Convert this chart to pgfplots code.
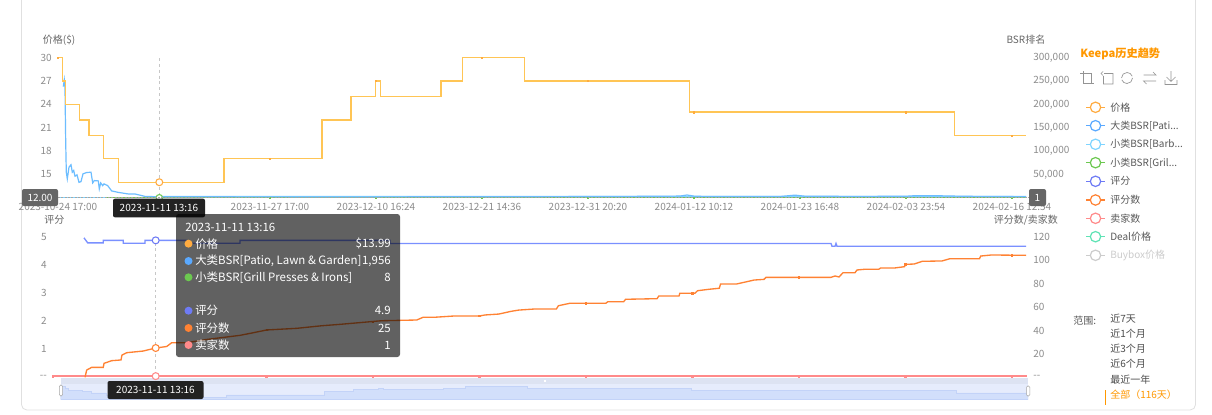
\documentclass[border=0pt]{standalone}
\usepackage{fontspec}
\setmainfont{Noto Sans CJK SC}
\usepackage{pgfplots}
\usepackage{pgfplotstable}
\pgfplotsset{compat=1.18}
\definecolor{cPrice}{HTML}{FFC555}
\definecolor{lPrice}{HTML}{FFAB40}
\definecolor{cBig}{HTML}{6CBDFF}
\definecolor{lBig}{HTML}{5AA9FF}
\definecolor{cBarb}{HTML}{7FD4FF}
\definecolor{cGrill}{HTML}{6CC850}
\definecolor{cRate}{HTML}{7A90FF}
\definecolor{lRate}{HTML}{6E7BF5}
\definecolor{cCount}{HTML}{FF8233}
\definecolor{cSell}{HTML}{FF8A8A}
\definecolor{cDeal}{HTML}{5FE3B5}
\definecolor{cBuy}{HTML}{CCCCCC}
\definecolor{tickgray}{HTML}{8C8C8C}
\definecolor{keepa}{HTML}{FF9800}
\definecolor{sBg}{HTML}{E6ECFC}
\definecolor{sTop}{HTML}{DDE3F2}
\definecolor{sLine}{HTML}{C3D3F8}
\definecolor{sFill}{HTML}{D2DFFB}
\definecolor{pGrey}{HTML}{666666}
\definecolor{pDark}{HTML}{222222}
\newcommand{\dd}{.\kern0pt.\kern0pt.}
\pgfplotstableread{
x y
58 30
62.7 30
62.7 27
65.3 27
65.3 24
79.7 24
79.7 22
89 22
89 20
103.7 20
103.7 17
118.7 17
118.7 13.99
224 13.99
224 17
322 17
322 22
351 22
351 25
375.7 25
375.7 27
380.7 27
380.7 25
441 25
441 27
462.7 27
462.7 30
524.7 30
524.7 27
689.3 27
689.3 23
954.3 23
954.3 20
1026 20
}\pricetable
\pgfplotstableread{
x y
63.3 238000
64.3 252500
65 234600
65.7 119400
66.3 54600
67.3 40400
69 65400
71 70600
72.3 54600
73.7 58300
75 46000
77 49000
79 33000
81 34500
83 51100
86.7 54000
91 54600
92.7 31700
94.3 36700
98.3 36000
99.3 18800
100.7 31700
102.7 25900
104 29600
107.7 25900
111.7 14500
118.3 11400
128.3 8000
135 8000
145 2800
159.3 1956
200 1900
250 1800
350 1600
450 2000
560 2300
650 3000
680 3500
687 5800
695 3000
720 2600
780 2600
795 5500
805 3200
850 2800
905 3000
915 4300
935 4300
965 3000
1026 2200
}\bigtable
\pgfplotstableread{
x y
84 4.96
87.7 4.78
103.3 4.78
103.3 4.87
123.3 4.87
123.3 4.77
145 4.77
145 4.87
186 4.87
186 4.77
240 4.77
240 4.87
390 4.87
390 4.76
831 4.76
832 4.66
835 4.66
836 4.76
837 4.66
1026 4.66
}\ratetable
\pgfplotstableread{
x y
85 0
86.7 6.2
91.7 8.5
103.3 8.5
104 11.9
111.7 14.2
121 14.8
122 19
126.7 21
143 22.4
155.7 25
166.7 26.3
171.7 29.5
186.7 29.5
206.7 32.3
240 35.8
253 38
266.7 40.4
296.7 41.8
321.7 44
340 45.2
381.7 48.3
416.7 48.9
423 51.2
433.8 51.2
453.6 52.3
479.3 52.3
485 53.2
499 54
511 56.3
519 57.4
534.7 58.3
556.4 58.3
558.4 61.1
570 63.2
605.8 63.2
607.8 64.5
623.6 64.5
625.6 66.6
657 67.1
658.8 69.4
679 69.4
679.8 71.7
694.8 71.7
697.6 73.9
708.7 75.1
719.3 76
720.5 79.6
736.3 79.6
744.2 81.1
754 83
764 83.6
766 85.3
831 85.3
835 86.5
839 85.6
843 89.3
855 89.3
857 91.6
864.8 92.2
878.7 92.2
880.6 93.3
894.5 93.3
904.4 94.4
905.6 96.4
914.3 96.7
922.2 99
942 99.3
949.8 101.2
979.5 101.2
980.7 103.5
991.4 104.4
1026 104.1
}\counttable
\newcommand{\tf}{\fontsize{7.5}{9}\selectfont}
\newcommand{\ttf}{\fontsize{8.6}{10}\selectfont}
\pgfplotsset{base/.style={
  scale only axis, clip=false,
  major tick length=0pt, minor tick length=0pt,
  scaled y ticks=false,
  tick label style={font=\tf, text=tickgray, inner sep=0pt},
  y axis line style={draw=none},
}}
\begin{document}
\begin{tikzpicture}[x=0.75pt,y=-0.75pt]
\useasboundingbox (0,0) rectangle (1212,414);
\clip (0,0) rectangle (1212,414);
\fill[white] (0,0) rectangle (1212,414);
\draw[draw=black!12, line width=0.6pt, rounded corners=4pt] (21.5,-20) rectangle (1195.5,410);
% pointer lines
\draw[black!22, line width=0.6pt, dash pattern=on 2.2pt off 2.2pt] (159.3,58) -- (159.3,197);
\draw[black!22, line width=0.6pt, dash pattern=on 2.2pt off 2.2pt] (155.7,236.7) -- (155.7,377);
% slider background
\fill[sBg] (60.7,377.7) rectangle (1028,399);
\fill[sTop] (60.7,377.7) rectangle (1028,383.7);

% ---------- upper right axis
\begin{axis}[base, at={(43.5pt,-148.275pt)}, anchor=south west,
  width=728.25pt, height=105pt,
  xmin=58, xmax=1029, ymin=0, ymax=300000,
  axis x line=none, axis y line*=right,
  ytick={50000,100000,150000,200000,250000,300000},
  yticklabels={{50,000},{100,000},{150,000},{200,000},{250,000},{300,000}},
  yticklabel style={anchor=west, xshift=3pt},
]
\addplot[cGrill, line width=0.6pt] coordinates {(107,8)(1026,8)};
\addplot[cBarb, line width=0.8pt] coordinates {(58,500)(105,500)};
\addplot[cBarb, line width=0.8pt] coordinates {(160,2800)(1026,3000)};
\addplot[cBig, line width=0.9pt] table {\bigtable};
\addplot[only marks, mark=square*, mark size=0.5pt, cGrill] coordinates {(270,8)(376,8)(482,8)(588,8)(694,8)(800,8)(906,8)(1012,8)};
\addplot[only marks, mark=*, mark size=2.4pt, mark options={draw=cGrill, fill=white, line width=0.8pt}] coordinates {(159.3,8)};
\end{axis}
% ---------- upper left axis
\begin{axis}[base, at={(43.5pt,-148.275pt)}, anchor=south west,
  width=728.25pt, height=105pt,
  xmin=58, xmax=1029, ymin=12, ymax=30,
  axis x line*=bottom, axis y line*=left,
  x axis line style={draw=black!35, dash pattern=on 1.5pt off 1pt, line width=0.5pt},
  ytick={15,18,21,24,27,30}, yticklabels={15,18,21,24,27,30},
  xtick={58,270,376,482,588,694,800,906,1012},
  xticklabels={2023-10-24 17:00,2023-11-27 17:00,2023-12-10 16:24,2023-12-21 14:36,2023-12-31 20:20,2024-01-12 10:12,2024-01-23 16:48,2024-02-03 23:54,2024-02-16 12:54},
  xticklabel style={yshift=-4.2pt},
  yticklabel style={xshift=-4.5pt},
]
\addplot[cPrice, line width=1pt] table {\pricetable};
\addplot[only marks, mark=square*, mark size=0.5pt, lPrice] coordinates {(58,30)(270,17)(376,27)(482,30)(588,27)(694,23)(906,23)(1012,20)};
\addplot[only marks, mark=*, mark size=2.6pt, mark options={draw=lPrice, fill=white, line width=0.8pt}] coordinates {(159.3,13.99)};
\end{axis}
% ---------- lower left axis
\begin{axis}[base, at={(39.75pt,-282.975pt)}, anchor=south west,
  width=732pt, height=105.45pt,
  xmin=53, xmax=1029, ymin=0, ymax=5,
  axis x line=none, axis y line*=left,
  ytick={0,1,2,3,4,5}, yticklabels={-{}-,1,2,3,4,5},
  yticklabel style={xshift=-4.5pt},
]
\addplot[cRate, line width=1pt] table {\ratetable};
\addplot[only marks, mark=*, mark size=2.6pt, mark options={draw=lRate, fill=white, line width=0.8pt}] coordinates {(155.7,4.87)};
\end{axis}
% ---------- lower right axis
\begin{axis}[base, at={(39.75pt,-282.975pt)}, anchor=south west,
  width=732pt, height=105.45pt,
  xmin=53, xmax=1029, ymin=0, ymax=120,
  axis x line=none, axis y line*=right,
  ytick={0,20,40,60,80,100,120}, yticklabels={-{}-,20,40,60,80,100,120},
  yticklabel style={anchor=west, xshift=3pt},
]
\addplot[cSell, line width=1pt] coordinates {(53,1)(1027,1)};
\addplot[only marks, mark=square*, mark size=0.5pt, cSell] coordinates {(53,1)(266.3,1)(372.8,1)(479.3,1)(585.8,1)(692.3,1)(798.8,1)(905.3,1)(1011.8,1)};
\addplot[cCount, line width=1pt] table {\counttable};
\addplot[only marks, mark=square*, mark size=0.5pt, cCount] coordinates {(266.7,40.4)(372.8,47.6)(479.3,52.3)(585.8,63.2)(692.3,71.7)(798.8,85.3)(905.3,96.4)(1011.8,104.2)};
\addplot[only marks, mark=*, mark size=2.6pt, mark options={draw=cCount, fill=white, line width=0.8pt}] coordinates {(155.7,25)};
\addplot[only marks, mark=*, mark size=2.6pt, mark options={draw=cSell, fill=white, line width=0.8pt}] coordinates {(155.7,1)};
\end{axis}
% ---------- slider
\begin{axis}[at={(45.525pt,-299.25pt)}, anchor=south west, scale only axis,
  width=725.475pt, height=15.975pt,
  xmin=58, xmax=1026, ymin=11.09, ymax=42.07, hide axis]
\addplot[draw=sLine, fill=sFill, line width=0.5pt] table {\pricetable} \closedcycle;
\end{axis}
\draw[black!35, fill=white, rounded corners=1pt, line width=0.4pt] (59.3,385) rectangle (62.6,396);
\draw[black!35, fill=white, rounded corners=1pt, line width=0.4pt] (1026.5,386) rectangle (1029.8,396);
\fill[white] (543.5,379.7) rectangle (544.2,381.7);
\fill[white] (545,379.7) rectangle (545.7,381.7);

% axis titles
\node[anchor=west, inner sep=0, font=\tf, text=black!60] at (42.7,40) {价格(\$)};
\node[anchor=east, inner sep=0, font=\tf, text=black!60] at (1045.5,40) {BSR排名};
\node[anchor=west, inner sep=0, font=\tf, text=black!60] at (44,220) {评分};
\node[anchor=east, inner sep=0, font=\tf, text=black!60] at (1058,220) {评分数/卖家数};

% pointer labels
\node[fill=pGrey, rounded corners=1.5pt, text=white, font=\tf, minimum width=27pt, minimum height=12.75pt, inner sep=0] at (40,197.5) {12.00};
\node[fill=pGrey, rounded corners=1.5pt, text=white, font=\tf, minimum width=12.75pt, minimum height=12.75pt, inner sep=0] at (1037.5,197.5) {1};
\node[fill=pDark, rounded corners=1.5pt, text=white, font=\tf, minimum width=69pt, minimum height=14pt, inner sep=0] at (159,208) {2023-11-11 13:16};
\node[fill=pDark, rounded corners=1.5pt, text=white, font=\tf, minimum width=72pt, minimum height=13.5pt, inner sep=0] at (155.5,390) {2023-11-11 13:16};

% tooltip
\fill[black, fill opacity=0.62, rounded corners=2pt] (176,214) rectangle (400,357);
\begin{scope}[every node/.style={inner sep=0, font=\ttf, text=white}]
\node[anchor=west] at (185,227) {2023-11-11 13:16};
\foreach \yy/\cc/\lab/\vv in {243.7/lPrice/价格/\$13.99, 261/lBig/{大类BSR[Patio, Lawn \& Garden]}/{1,956}, 277.3/cGrill/{小类BSR[Grill Presses \& Irons]}/8, 310.7/lRate/评分/4.9, 328/cCount/评分数/25, 345/cSell/卖家数/1}{
  \fill[\cc] (188.5,\yy) circle (3pt);
  \node[anchor=west] at (195,\yy) {\lab};
  \node[anchor=east] at (391,\yy) {\vv};
}
\end{scope}

% legend
\node[anchor=west, inner sep=0, font=\fontsize{8.4}{10}\selectfont\bfseries, text=keepa] at (1080,54) {Keepa历史趋势};
\foreach \yy/\cc/\lab in {107.3/lPrice/价格, 125.7/lBig/大类BSR[Pati\dd, 144.3/cBarb/小类BSR[Barb\dd, 162.7/cGrill/小类BSR[Gril\dd, 181.3/lRate/评分, 200/cCount/评分数, 218.3/cSell/卖家数, 236.7/cDeal/Deal价格}{
  \draw[\cc, line width=0.9pt] (1086,\yy) -- (1105,\yy);
  \draw[\cc, fill=white, line width=0.9pt] (1095.5,\yy) circle (3.9pt);
  \node[anchor=west, inner sep=0, font=\tf, text=black!65] at (1110,\yy) {\lab};
}
\draw[cBuy, line width=0.9pt] (1086,255.3) -- (1105,255.3);
\draw[cBuy, fill=white, line width=0.9pt] (1095.5,255.3) circle (3.9pt);
\node[anchor=west, inner sep=0, font=\tf, text=cBuy] at (1110,255.3) {Buybox价格};

% toolbox icons
\begin{scope}[draw=black!42, line width=0.5pt]
\draw (1080,73.5) -- (1091,73.5) -- (1091,84) (1083,71) -- (1083,83) -- (1094,83);
\draw (1104,73.5) -- (1113,73.5) -- (1113,84) -- (1103.5,84) -- (1103.5,76) (1103,71.5) -- (1101,73.5) -- (1103,75.5);
\draw (1121.5,78) arc[start angle=-180, end angle=-20, radius=5.5];
\draw (1132.5,78) arc[start angle=0, end angle=160, radius=5.5];
\draw (1143.5,75) -- (1156,75) -- (1153,72) (1156,81) -- (1143.5,81) -- (1146.5,84);
\draw (1171,71) -- (1171,81) (1166.5,77) -- (1171,81.5) -- (1175.5,77) (1165,80) -- (1165,84.5) -- (1177,84.5) -- (1177,80);
\end{scope}

% range selector
\node[anchor=west, inner sep=0, font=\tf, text=black!65] at (1073,321) {范围:};
\foreach \yy/\lab in {319/近7天, 334/近1个月, 348.7/近3个月, 363.7/近6个月, 379.3/最近一年}{
  \node[anchor=west, inner sep=0, font=\tf, text=black!70] at (1110,\yy) {\lab};
}
\node[anchor=west, inner sep=0, font=\tf, text=keepa] at (1110,394.3) {全部（116天）};
\draw[keepa, line width=0.6pt] (1105,390) -- (1105,405);
\end{tikzpicture}
\end{document}
